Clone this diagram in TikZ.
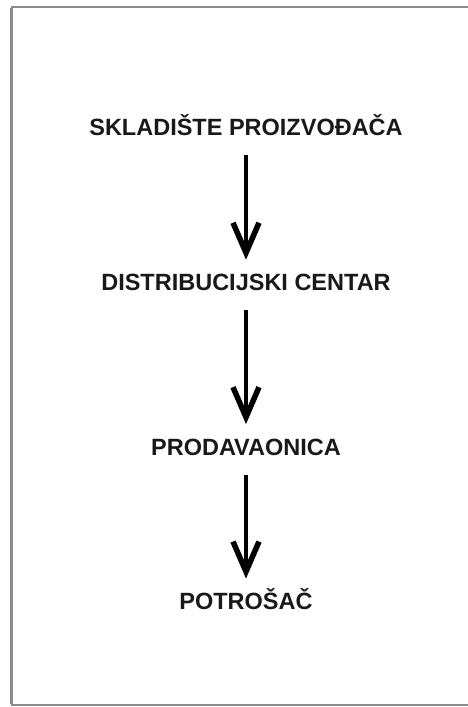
\documentclass[tikz,border=0pt]{standalone}
\usepackage{fontspec}
\setmainfont{Liberation Sans}
\usetikzlibrary{positioning,arrows.meta}

\begin{document}
\begin{tikzpicture}[x=1pt, y=-1pt,
				stage/.style={rectangle, inner sep=0pt, text height=17pt, text depth=0pt, text=black!90, font=\fontsize{23.5}{28}\selectfont\bfseries},
				flow/.style={line width=4pt, -{Straight Barb[length=30pt, width=26pt, line width=5.5pt]}, shorten <=19pt, shorten >=14pt},
				frame/.style={draw=black!45, line width=2pt}
			]
			\useasboundingbox (0,0) rectangle (468,707);
			\draw[frame] (470,7) -- (12,7) -- (12,705) -- (470,705);
			\draw[frame, line width=1.5pt] (11,8) -- (11,704);
			\node[stage] (warehouse) at (246,127) {SKLADIŠTE PROIZVOĐAČA};
			\node[stage] (distribution) [below=138pt of warehouse] {DISTRIBUCIJSKI CENTAR};
			\node[stage] (shop) [below=147pt of distribution] {PRODAVAONICA};
			\node[stage] (consumer) [below=137pt of shop] {POTROŠAČ};
			\draw[flow] (warehouse.south) -- (distribution.north);
			\draw[flow] (distribution.south) -- (shop.north);
			\draw[flow] (shop.south) -- (consumer.north);
			\end{tikzpicture}
\end{document}
